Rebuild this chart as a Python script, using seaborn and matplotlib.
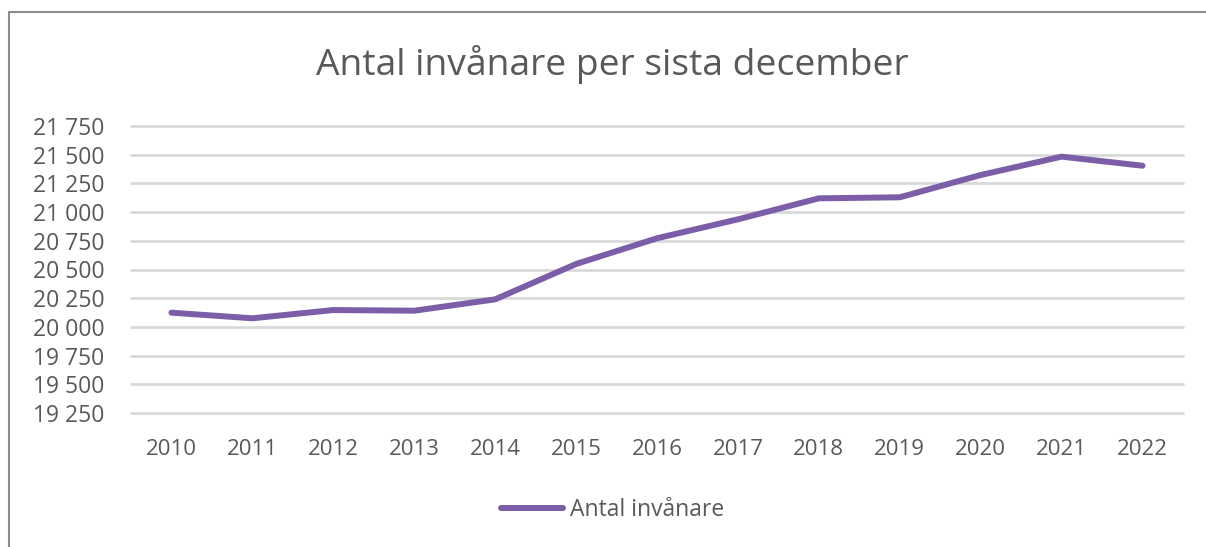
import matplotlib
matplotlib.use("Agg")
import matplotlib.pyplot as plt
import matplotlib.ticker as mticker
from matplotlib.patches import Rectangle
import seaborn as sns
import pandas as pd

years = ["2010", "2011", "2012", "2013", "2014", "2015", "2016",
         "2017", "2018", "2019", "2020", "2021", "2022"]
residents = [20124, 20075, 20147, 20141, 20240, 20548, 20772,
             20937, 21120, 21129, 21323, 21483, 21404]
y_ticks = [19250, 19500, 19750, 20000, 20250, 20500, 20750,
           21000, 21250, 21500, 21750]

title = "Antal invånare per sista december"
series_name = "Antal invånare"

sns.set_style("white")
plt.rcParams["font.family"] = ["Open Sans", "DejaVu Sans"]

text_color = "#595959"
line_color = "#7B5EA7"
grid_color = "#D9D9D9"

df = pd.DataFrame({"År": years, series_name: residents})

fig = plt.figure(figsize=(12.06, 5.47), dpi=100)
ax = fig.add_axes([131 / 1206, 1 - 413 / 547, 1052 / 1206, 287 / 547])

sns.lineplot(data=df, x="År", y=series_name, ax=ax, color=line_color,
             linewidth=4.3, solid_capstyle="round", label=series_name,
             legend=False)

ax.set_xlim(-0.5, len(years) - 0.5)
ax.set_ylim(y_ticks[0], y_ticks[-1])
ax.set_yticks(y_ticks)
ax.yaxis.set_major_formatter(
    mticker.FuncFormatter(lambda v, p: f"{int(v):,}".replace(",", " ")))
ax.grid(axis="y", color=grid_color, linewidth=2)
for gl in ax.get_ygridlines():
    gl.set_clip_on(False)
ax.set_axisbelow(True)
for s in ax.spines.values():
    s.set_visible(False)
ax.tick_params(axis="both", length=0, colors=text_color, labelsize=16)
ax.tick_params(axis="y", pad=19, labelsize=16.5)
ax.tick_params(axis="x", pad=19)
ax.set_xlabel("")
ax.set_ylabel("")

fig.text(0.508, 1 - 65 / 547, title, ha="center", va="center",
         fontsize=26.8, color=text_color)

handles, labels = ax.get_legend_handles_labels()
fig.legend(handles, labels, loc="center", bbox_to_anchor=(0.508, 1 - 510 / 547),
           frameon=False, fontsize=16.5, labelcolor=text_color,
           handlelength=2.7, handletextpad=0.3)

# chart frame like the Excel chart area border
fig.patches.append(Rectangle((9 / 1206, -0.05), 1.2, 1 - 12 / 547 + 0.05,
                             transform=fig.transFigure, fill=False,
                             edgecolor="#8C8C8C", linewidth=1.5))

fig.savefig("out.png", dpi=100)
